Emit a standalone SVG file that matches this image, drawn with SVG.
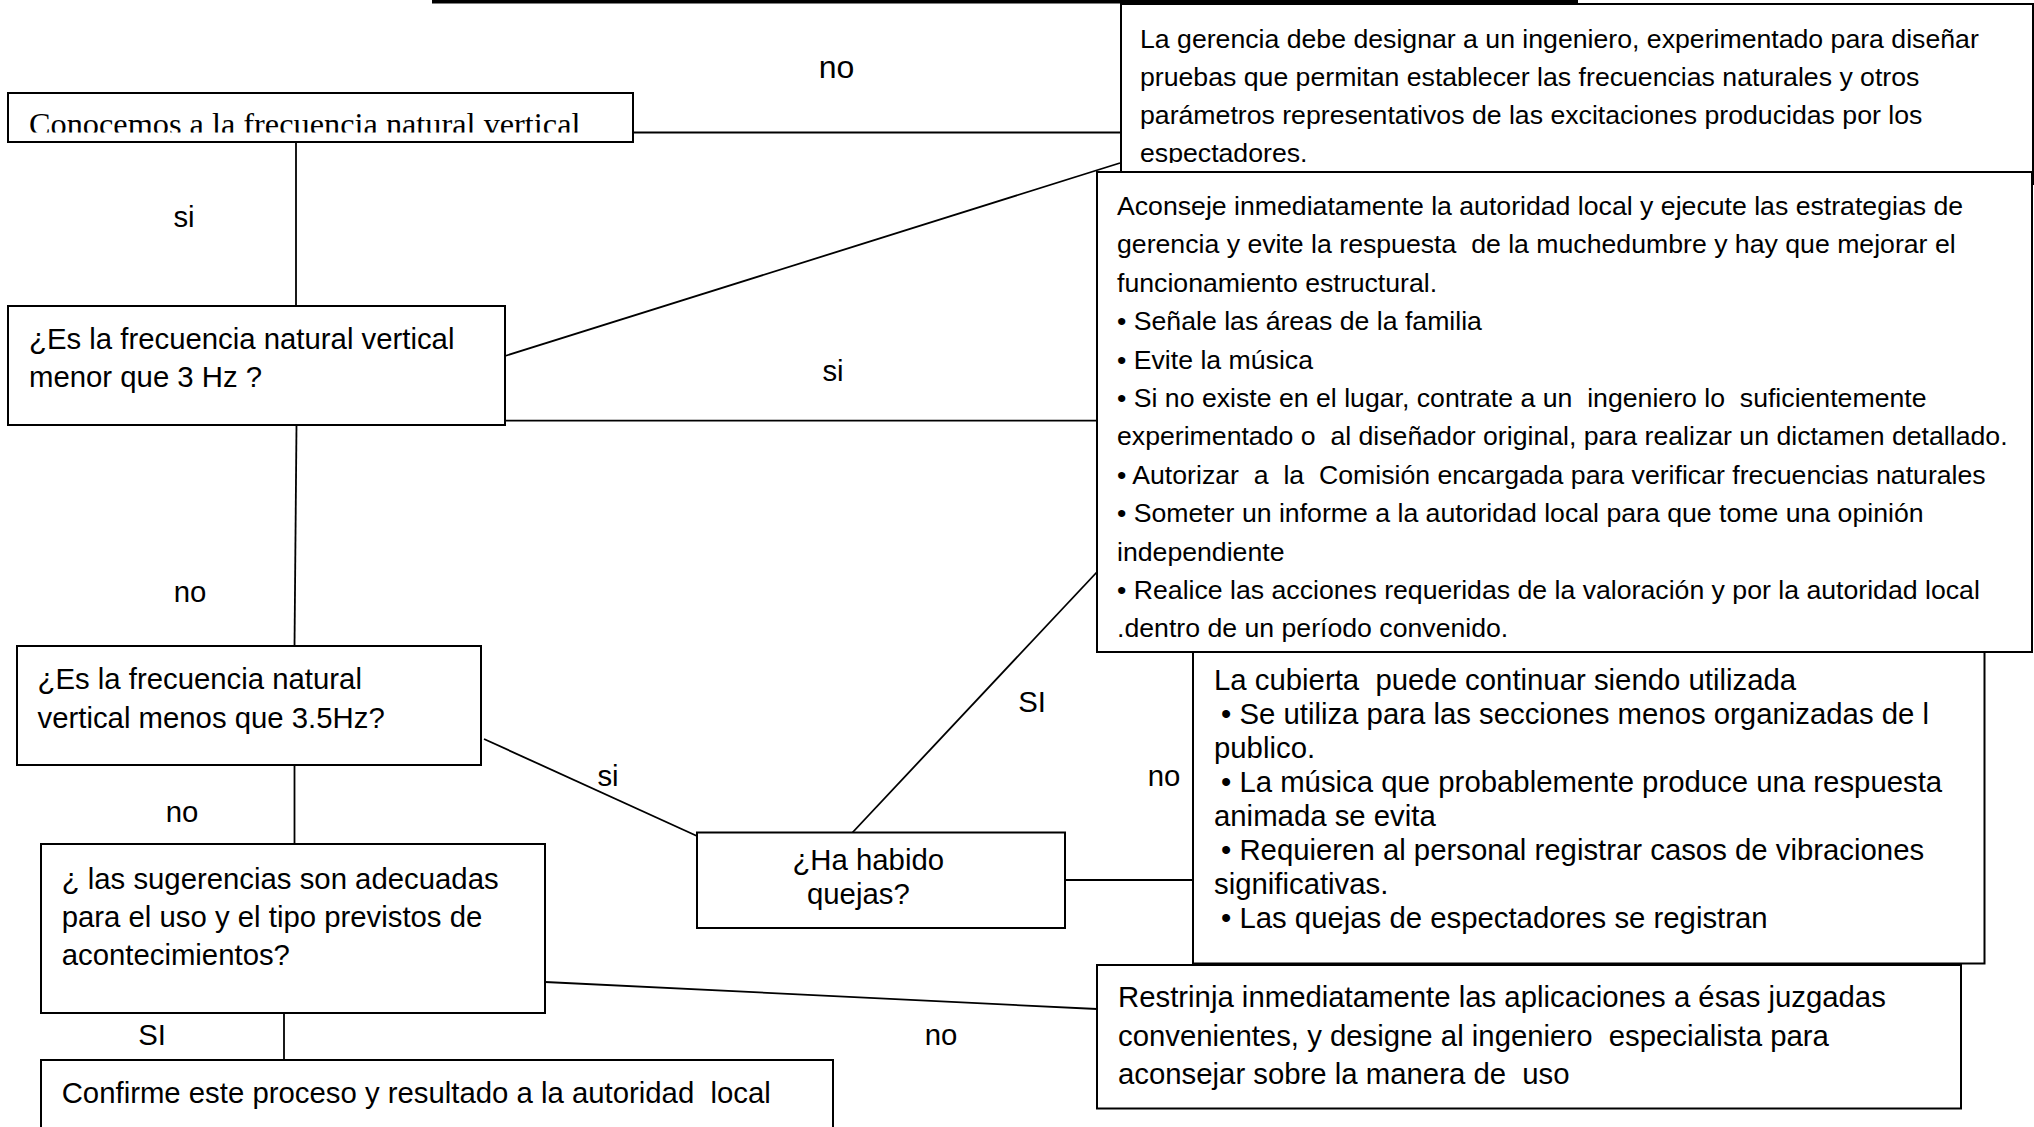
<svg xmlns="http://www.w3.org/2000/svg" width="2034" height="1127" viewBox="0 0 2034 1127">
<style>
  .box { fill: #ffffff; stroke: #000000; stroke-width: 2; }
  .conn { stroke: #000000; stroke-width: 1.8; fill: none; }
  .t { font-family: "Liberation Sans", Arial, sans-serif; fill: #000000; white-space: pre; }
  .s22 { font-size: 29.33px; }
  .s20 { font-size: 26.67px; }
  .lbl { font-family: "Liberation Sans", Arial, sans-serif; font-size: 29.33px; fill: #000000; text-anchor: middle; }
  .serif { font-family: "Liberation Serif", "Times New Roman", serif; font-size: 32.3px; fill: #000000; white-space: pre; }
</style>
<defs>
  <clipPath id="clip1"><rect x="8" y="93" width="625" height="39.5"/></clipPath>
  <clipPath id="clipA"><rect x="1121" y="4" width="912" height="159"/></clipPath>
</defs>
<rect x="0" y="0" width="2034" height="1127" fill="#ffffff"/>

<line x1="432" y1="1.7" x2="1578" y2="1.7" stroke="#000" stroke-width="3.4"/>

<g id="connectors">
  <line class="conn" x1="296" y1="142" x2="296" y2="306"/>
  <line class="conn" x1="633" y1="132.5" x2="1121" y2="132.5"/>
  <line class="conn" x1="505" y1="356" x2="1120" y2="163"/>
  <line class="conn" x1="505" y1="420.7" x2="1097" y2="420.7"/>
  <line class="conn" x1="296.5" y1="425" x2="294.5" y2="646"/>
  <line class="conn" x1="484" y1="739" x2="697" y2="836"/>
  <line class="conn" x1="852.5" y1="832.5" x2="1097" y2="572"/>
  <line class="conn" x1="1065" y1="880" x2="1193" y2="880"/>
  <line class="conn" x1="294.5" y1="765" x2="294.5" y2="844"/>
  <line class="conn" x1="545" y1="982" x2="1097" y2="1009"/>
  <line class="conn" x1="284" y1="1013" x2="284" y2="1060"/>
</g>

<g id="labels">
  <text class="lbl" x="836.5" y="78" style="font-size:32px">no</text>
  <text class="lbl" x="184" y="226.5">si</text>
  <text class="lbl" x="833" y="381">si</text>
  <text class="lbl" x="190" y="602">no</text>
  <text class="lbl" x="1032" y="711.7">SI</text>
  <text class="lbl" x="608" y="785.7">si</text>
  <text class="lbl" x="1164" y="785.7">no</text>
  <text class="lbl" x="182" y="822">no</text>
  <text class="lbl" x="152" y="1045">SI</text>
  <text class="lbl" x="941" y="1045">no</text>
</g>

<g id="node-conocemos">
  <rect class="box" x="8" y="93" width="625" height="49"/>
  <text class="serif" x="29" y="134.5" clip-path="url(#clip1)">Conocemos a la frecuencia natural vertical</text>
</g>

<g id="node-menor3">
  <rect class="box" x="8" y="306" width="497" height="119"/>
  <text class="t s22" x="29" y="349">¿Es la frecuencia natural vertical</text>
  <text class="t s22" x="29" y="387">menor que 3 Hz ?</text>
</g>

<g id="node-menos35">
  <rect class="box" x="17" y="646" width="464" height="119"/>
  <text class="t s22" x="37.5" y="689">¿Es la frecuencia natural</text>
  <text class="t s22" x="37.5" y="728">vertical menos que 3.5Hz?</text>
</g>

<g id="node-gerencia">
  <rect class="box" x="1121" y="4" width="912" height="180"/>
  <g clip-path="url(#clipA)">
    <text class="t s20" x="1140" y="48">La gerencia debe designar a un ingeniero, experimentado para diseñar</text>
    <text class="t s20" x="1140" y="86">pruebas que permitan establecer las frecuencias naturales y otros</text>
    <text class="t s20" x="1140" y="124">parámetros representativos de las excitaciones producidas por los</text>
    <text class="t s20" x="1140" y="162">espectadores.</text>
  </g>
</g>

<g id="node-cubierta">
  <rect class="box" x="1193" y="630" width="791.5" height="333.5"/>
  <text class="t s22" x="1214" y="690">La cubierta  puede continuar siendo utilizada</text>
  <text class="t s22" x="1221" y="724">• Se utiliza para las secciones menos organizadas de l</text>
  <text class="t s22" x="1214" y="758">publico.</text>
  <text class="t s22" x="1221" y="792">• La música que probablemente produce una respuesta</text>
  <text class="t s22" x="1214" y="826">animada se evita</text>
  <text class="t s22" x="1221" y="860">• Requieren al personal registrar casos de vibraciones</text>
  <text class="t s22" x="1214" y="894">significativas.</text>
  <text class="t s22" x="1221" y="928">• Las quejas de espectadores se registran</text>
</g>

<g id="node-aconseje">
  <rect class="box" x="1097" y="172" width="935" height="480"/>
  <text class="t s20" x="1117" y="215">Aconseje inmediatamente la autoridad local y ejecute las estrategias de</text>
  <text class="t s20" x="1117" y="253.4">gerencia y evite la respuesta  de la muchedumbre y hay que mejorar el</text>
  <text class="t s20" x="1117" y="291.8">funcionamiento estructural.</text>
  <text class="t s20" x="1117" y="330.2">• Señale las áreas de la familia</text>
  <text class="t s20" x="1117" y="368.6">• Evite la música</text>
  <text class="t s20" x="1117" y="407">• Si no existe en el lugar, contrate a un  ingeniero lo  suficientemente</text>
  <text class="t s20" x="1117" y="445.4">experimentado o  al diseñador original, para realizar un dictamen detallado.</text>
  <text class="t s20" x="1117" y="483.8">• Autorizar  a  la  Comisión encargada para verificar frecuencias naturales</text>
  <text class="t s20" x="1117" y="522.2">• Someter un informe a la autoridad local para que tome una opinión</text>
  <text class="t s20" x="1117" y="560.6">independiente</text>
  <text class="t s20" x="1117" y="599">• Realice las acciones requeridas de la valoración y por la autoridad local</text>
  <text class="t s20" x="1117" y="637.4">.dentro de un período convenido.</text>
</g>

<g id="node-quejas">
  <rect class="box" x="697" y="832.5" width="368" height="95.5"/>
  <text class="t s22" x="792.4" y="870">¿Ha habido</text>
  <text class="t s22" x="807" y="903.5">quejas?</text>
</g>

<g id="node-restrinja">
  <rect class="box" x="1097" y="965" width="864" height="143.5"/>
  <text class="t s22" x="1118" y="1007">Restrinja inmediatamente las aplicaciones a ésas juzgadas</text>
  <text class="t s22" x="1118" y="1045.5">convenientes, y designe al ingeniero  especialista para</text>
  <text class="t s22" x="1118" y="1084">aconsejar sobre la manera de  uso</text>
</g>

<g id="node-sugerencias">
  <rect class="box" x="41" y="844" width="504" height="169"/>
  <text class="t s22" x="61.7" y="888.5">¿ las sugerencias son adecuadas</text>
  <text class="t s22" x="61.7" y="926.5">para el uso y el tipo previstos de</text>
  <text class="t s22" x="61.7" y="964.5">acontecimientos?</text>
</g>

<g id="node-confirme">
  <rect class="box" x="41" y="1060" width="792" height="100"/>
  <text class="t s22" x="61.7" y="1103">Confirme este proceso y resultado a la autoridad  local</text>
</g>
</svg>
